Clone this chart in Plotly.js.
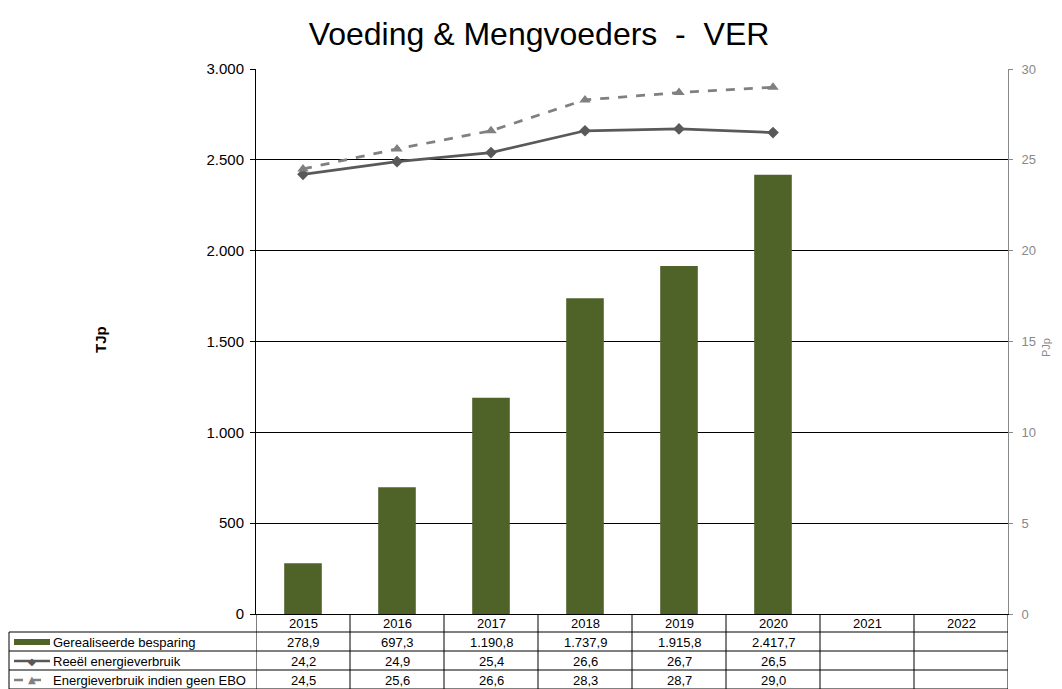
<!DOCTYPE html>
<html>
<head>
<meta charset="utf-8">
<script src="https://cdn.plot.ly/plotly-3.0.1.min.js"></script>
<style>html,body{margin:0;padding:0;background:#fff;}#chart{width:1062px;height:689px;}</style>
</head>
<body>
<div id="chart"></div>
<script>
const years = ['2015','2016','2017','2018','2019','2020','2021','2022'];
const besparing = [278.9, 697.3, 1190.8, 1737.9, 1915.8, 2417.7, null, null];
const reeel = [24.2, 24.9, 25.4, 26.6, 26.7, 26.5, null, null];
const geenEbo = [24.5, 25.6, 26.6, 28.3, 28.7, 29.0, null, null];
const seriesNames = ['Gerealiseerde besparing', 'Reeël energieverbruik', 'Energieverbruik indien geen EBO'];

const FONT = 'Liberation Sans, Arial, sans-serif';
const W = 1062, H = 689;
const M = {l: 256, r: 54, t: 69, b: 75};
const plotW = W - M.l - M.r, plotH = H - M.t - M.b;
const px2x = p => (p - M.l) / plotW;
const py2y = p => (H - M.b - p) / plotH;

function fmt(v) {
  if (v === null || v === undefined) return '';
  const s = v.toFixed(1);
  let [i, d] = s.split('.');
  i = i.replace(/\B(?=(\d{3})+(?!\d))/g, '.');
  return i + ',' + d;
}

const traces = [
  {type: 'bar', x: years, y: besparing, name: seriesNames[0], marker: {color: '#4F6228'}, width: 0.4, yaxis: 'y', hoverinfo: 'skip'},
  {type: 'scatter', mode: 'lines+markers', x: years, y: reeel, name: seriesNames[1], yaxis: 'y2',
   line: {color: '#595959', width: 2.75}, marker: {symbol: 'diamond', size: 9, color: '#595959'}},
  {type: 'scatter', mode: 'lines+markers', x: years, y: geenEbo, name: seriesNames[2], yaxis: 'y2',
   line: {color: '#808080', width: 2.75, dash: 'dash'}, marker: {symbol: 'triangle-up', size: 10, color: '#808080'}}
];

// Table geometry (pixels)
const rowLines = [614, 632, 651, 670, 689];
const rowCenters = [623.5, 642, 661, 680];
const leftEdge = 9;
const shapes = [];
const annotations = [];
const lineStyle = {color: '#000', width: 1};
for (let k = 1; k < rowLines.length; k++) {
  shapes.push({type: 'line', xref: 'paper', yref: 'paper', x0: px2x(leftEdge), x1: 1, y0: py2y(rowLines[k]), y1: py2y(rowLines[k]), line: lineStyle});
}
shapes.push({type: 'line', xref: 'paper', yref: 'paper', x0: px2x(leftEdge), x1: px2x(leftEdge), y0: py2y(rowLines[1]), y1: py2y(rowLines[4]), line: lineStyle});
for (let k = 0; k <= years.length; k++) {
  shapes.push({type: 'line', xref: 'x', yref: 'paper', x0: k - 0.5, x1: k - 0.5, y0: 0, y1: py2y(rowLines[4]), line: lineStyle});
}
const cellFont = {family: FONT, size: 13, color: '#000'};
years.forEach((yr, i) => {
  annotations.push({xref: 'x', yref: 'paper', x: i, y: py2y(rowCenters[0]), xanchor: 'center', yanchor: 'middle', text: yr, showarrow: false, font: cellFont});
});
const rows = [besparing, reeel, geenEbo];
rows.forEach((arr, r) => {
  arr.forEach((v, i) => {
    if (v === null) return;
    annotations.push({xref: 'x', yref: 'paper', x: i, y: py2y(rowCenters[r + 1]), xanchor: 'center', yanchor: 'middle', text: fmt(v), showarrow: false, font: cellFont});
  });
  annotations.push({xref: 'paper', yref: 'paper', x: px2x(51), y: py2y(rowCenters[r + 1]), xanchor: 'left', yanchor: 'middle', text: seriesNames[r], showarrow: false, font: cellFont});
});
// legend keys
shapes.push({type: 'rect', xref: 'paper', yref: 'paper', x0: px2x(14), x1: px2x(50), y0: py2y(rowCenters[1] + 3), y1: py2y(rowCenters[1] - 3), fillcolor: '#4F6228', line: {width: 0}});
shapes.push({type: 'line', xref: 'paper', yref: 'paper', x0: px2x(14), x1: px2x(50), y0: py2y(rowCenters[2]), y1: py2y(rowCenters[2]), line: {color: '#595959', width: 2.5}});
shapes.push({type: 'line', xref: 'paper', yref: 'paper', x0: px2x(14), x1: px2x(50), y0: py2y(rowCenters[3]), y1: py2y(rowCenters[3]), line: {color: '#808080', width: 2.5, dash: 'dash'}});
annotations.push({xref: 'paper', yref: 'paper', x: px2x(32), y: py2y(rowCenters[2]), xanchor: 'center', yanchor: 'middle', text: '◆', showarrow: false, font: {family: 'DejaVu Sans', size: 10, color: '#595959'}});
annotations.push({xref: 'paper', yref: 'paper', x: px2x(32), y: py2y(rowCenters[3] - 1), xanchor: 'center', yanchor: 'middle', text: '▲', showarrow: false, font: {family: 'DejaVu Sans', size: 10, color: '#808080'}});

// axis titles
annotations.push({xref: 'paper', yref: 'paper', x: px2x(100), y: py2y(340), xanchor: 'center', yanchor: 'middle', text: '<b>TJp</b>', textangle: -90, showarrow: false, font: {family: FONT, size: 15, color: '#000'}});
annotations.push({xref: 'paper', yref: 'paper', x: px2x(1046), y: py2y(348), xanchor: 'center', yanchor: 'middle', text: 'PJp', textangle: -90, showarrow: false, font: {family: FONT, size: 11, color: '#888888'}});

const layout = {
  width: W, height: H,
  margin: M,
  paper_bgcolor: '#fff', plot_bgcolor: '#fff',
  separators: ',.',
  showlegend: false,
  title: {text: 'Voeding & Mengvoeders  -  VER', font: {family: FONT, size: 32, color: '#000'}, x: 539 / W, xanchor: 'center', y: 1 - 34 / H, yanchor: 'middle'},
  xaxis: {type: 'category', range: [-0.5, 7.5], showticklabels: false, showgrid: false, zeroline: false, showline: true, linecolor: '#000', linewidth: 1, ticks: ''},
  yaxis: {range: [0, 3000], dtick: 500, tickformat: ',d', showgrid: true, gridcolor: '#000', gridwidth: 1, zeroline: false,
          showline: true, linecolor: '#000', linewidth: 1, ticks: 'outside', ticklen: 5, tickcolor: '#000',
          tickfont: {family: FONT, size: 15, color: '#000'}, ticklabelstandoff: 3, fixedrange: true},
  yaxis2: {overlaying: 'y', side: 'right', range: [0, 30], dtick: 5, showgrid: false, zeroline: false,
           showline: true, linecolor: '#888888', linewidth: 1, ticks: 'outside', ticklen: 4, tickcolor: '#888888',
           tickfont: {family: FONT, size: 13, color: '#888888'}, ticklabelstandoff: 6},
  shapes: shapes,
  annotations: annotations
};
Plotly.newPlot('chart', traces, layout, {displayModeBar: false, staticPlot: true});
</script>
</body>
</html>
